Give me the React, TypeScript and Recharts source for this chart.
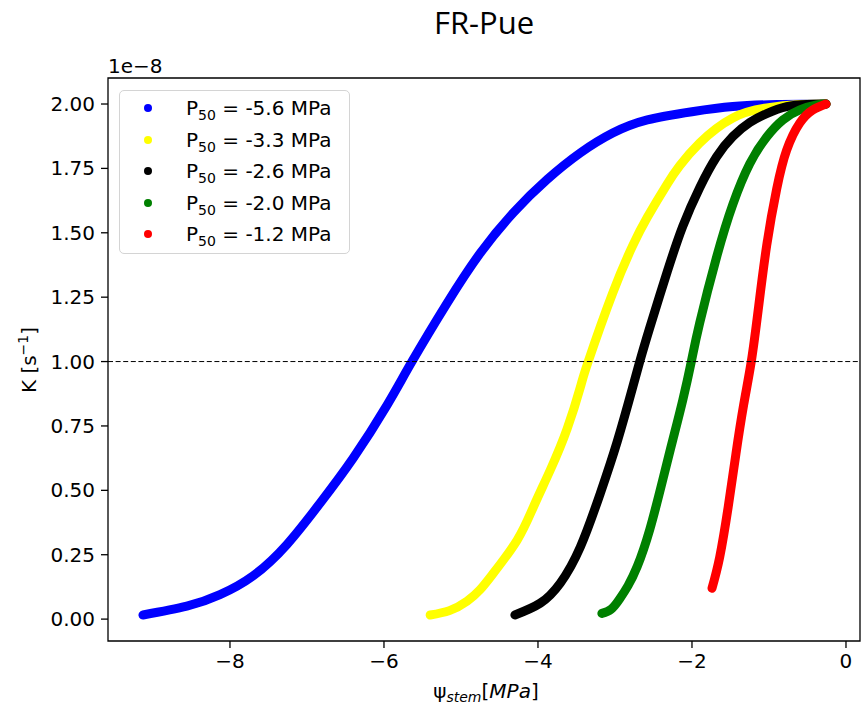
import { LineChart, Line, XAxis, YAxis, ReferenceLine, ReferenceArea } from 'recharts'

// values, K in units of 1e-8 s^-1
const xTicks = [-8, -6, -4, -2, 0]
const yTicks = [0, 0.25, 0.5, 0.75, 1, 1.25, 1.5, 1.75, 2]
const xDomain: [number, number] = [-9.584, 0.182]
const yDomain: [number, number] = [-0.085, 2.101]

const p56: [number, number][] = [
  [-9.13, 0.016], [-8.56, 0.05], [-8.13, 0.095], [-7.7, 0.168], [-7.26, 0.29],
  [-6.83, 0.45], [-6.4, 0.625], [-5.96, 0.831], [-5.64, 0.998], [-5.18, 1.227],
  [-4.75, 1.421], [-4.32, 1.578], [-3.88, 1.707], [-3.45, 1.81], [-3.03, 1.887],
  [-2.58, 1.938], [-2.0, 1.97], [-1.47, 1.99], [-0.9, 1.998], [-0.26, 2.0],
]
const p33: [number, number][] = [
  [-5.4, 0.016], [-5.15, 0.033], [-4.92, 0.07], [-4.75, 0.115], [-4.58, 0.178],
  [-4.27, 0.307], [-4.06, 0.435], [-3.84, 0.579], [-3.62, 0.74], [-3.45, 0.9],
  [-3.35, 0.998], [-3.03, 1.266], [-2.77, 1.45], [-2.58, 1.56], [-2.32, 1.69],
  [-2.16, 1.76], [-1.9, 1.849], [-1.47, 1.946], [-1.03, 1.985], [-0.6, 1.998],
  [-0.26, 2.0],
]
const p26: [number, number][] = [
  [-4.3, 0.016], [-3.97, 0.062], [-3.71, 0.14], [-3.45, 0.28], [-3.19, 0.489],
  [-2.97, 0.69], [-2.77, 0.9], [-2.68, 0.998], [-2.55, 1.13], [-2.32, 1.35],
  [-2.12, 1.525], [-1.9, 1.675], [-1.68, 1.795], [-1.47, 1.874], [-1.25, 1.928],
  [-1.03, 1.963], [-0.77, 1.99], [-0.51, 1.998], [-0.26, 2.0],
]
const p20: [number, number][] = [
  [-3.17, 0.022], [-3.05, 0.038], [-2.94, 0.078], [-2.83, 0.13], [-2.71, 0.205],
  [-2.55, 0.346], [-2.38, 0.54], [-2.25, 0.695], [-2.12, 0.85], [-2.01, 0.998],
  [-1.9, 1.15], [-1.68, 1.406], [-1.47, 1.61], [-1.25, 1.768], [-1.03, 1.872],
  [-0.82, 1.938], [-0.6, 1.977], [-0.38, 1.996], [-0.26, 2.0],
]
const p12: [number, number][] = [
  [-1.74, 0.12], [-1.64, 0.241], [-1.53, 0.435], [-1.43, 0.64], [-1.33, 0.83],
  [-1.23, 1.0], [-1.14, 1.2], [-1.03, 1.45], [-0.9, 1.67], [-0.77, 1.821],
  [-0.6, 1.926], [-0.43, 1.977], [-0.26, 2.0],
]

const p50Labels = ['-5.6', '-3.3', '-2.6', '-2.0', '-1.2']
const colors = ['#0000ff', '#ffff00', '#000000', '#008000', '#ff0000']
const curves = [p56, p33, p26, p20, p12]

const series = curves.map((pts, i) => ({
  label: p50Labels[i],
  color: colors[i],
  data: pts.map(([x, y]) => ({ x, y })),
}))

const font = '"DejaVu Sans", sans-serif'
const minus = (v: number) => (v < 0 ? `\u2212${Math.abs(v)}` : `${v}`)

export default function App() {
  return (
    <div style={{ position: 'absolute', left: 0, top: 0, width: 865, height: 711, background: '#fff', fontFamily: font, color: '#000' }}>
      <LineChart width={865} height={711} margin={{ top: 78, right: 5, bottom: 0, left: 0 }} style={{ fontFamily: font }}>
        <XAxis
          type="number"
          dataKey="x"
          domain={xDomain}
          ticks={xTicks}
          allowDataOverflow
          height={70}
          axisLine={false}
          tickLine={{ stroke: '#000', strokeWidth: 1.3 }}
          tickSize={7}
          tickMargin={6}
          tick={{ fill: '#000', fontSize: 20 }}
          tickFormatter={minus}
        />
        <YAxis
          type="number"
          dataKey="y"
          domain={yDomain}
          ticks={yTicks}
          allowDataOverflow
          width={108}
          axisLine={false}
          tickLine={{ stroke: '#000', strokeWidth: 1.3 }}
          tickSize={7}
          tickMargin={6}
          tick={{ fill: '#000', fontSize: 20 }}
          tickFormatter={(v: number) => v.toFixed(2)}
        />
        {series.map((s) => (
          <Line
            key={s.label}
            data={s.data}
            dataKey="y"
            type="natural"
            stroke={s.color}
            strokeWidth={9}
            strokeLinecap="round"
            strokeLinejoin="round"
            dot={false}
            activeDot={false}
            isAnimationActive={false}
          />
        ))}
        <ReferenceLine y={1} stroke="#000" strokeWidth={1} strokeDasharray="5 2.6" />
        <ReferenceArea x1={xDomain[0]} x2={xDomain[1]} y1={yDomain[0]} y2={yDomain[1]} fill="none" fillOpacity={0} stroke="#000" strokeWidth={1.3} strokeOpacity={1} />
      </LineChart>

      {/* title */}
      <div style={{ position: 'absolute', left: 484, top: 7, transform: 'translateX(-50%)', fontFamily: '"Open Sans", sans-serif', fontSize: 31, lineHeight: '31px', whiteSpace: 'nowrap' }}>
        FR-Pue
      </div>

      {/* offset text */}
      <div style={{ position: 'absolute', left: 108, top: 56, fontSize: 20, lineHeight: '20px' }}>1e{'\u2212'}8</div>

      {/* y label */}
      <div style={{ position: 'absolute', left: 30, top: 360, transform: 'translate(-50%, -50%) rotate(-90deg)', fontSize: 20, lineHeight: '20px', whiteSpace: 'nowrap' }}>
        K [s<span style={{ fontSize: 14, position: 'relative', top: -8 }}>{'\u2212'}1</span>]
      </div>

      {/* x label */}
      <div style={{ position: 'absolute', left: 486, top: 681, transform: 'translateX(-50%)', fontSize: 20, lineHeight: '20px', whiteSpace: 'nowrap' }}>
        {'\u03c8'}<span style={{ fontSize: 14, fontStyle: 'italic', position: 'relative', top: 4 }}>stem</span>[<i>MPa</i>]
      </div>

      {/* legend */}
      <div style={{ position: 'absolute', left: 119, top: 90, width: 229, height: 162, border: '1.5px solid #d4d4d4', borderRadius: 5, background: 'rgba(255,255,255,0.8)' }}>
        {series.map((s, i) => (
          <div key={s.label} style={{ position: 'absolute', left: 0, top: 17 + i * 31.5 - 12, height: 24, display: 'flex', alignItems: 'center', whiteSpace: 'nowrap' }}>
            <span style={{ position: 'absolute', left: 24, top: 8, width: 8, height: 8, borderRadius: 4, background: s.color }} />
            <span style={{ position: 'absolute', left: 66, top: 2, fontSize: 20, lineHeight: '20px' }}>
              P<span style={{ fontSize: 14, position: 'relative', top: 5 }}>50</span> = {s.label} MPa
            </span>
          </div>
        ))}
      </div>
    </div>
  )
}
